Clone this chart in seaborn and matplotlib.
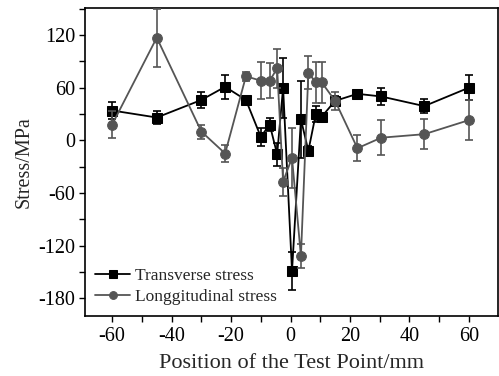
import matplotlib
matplotlib.use("Agg")
import matplotlib.pyplot as plt
import seaborn as sns
import pandas as pd
from matplotlib.ticker import MultipleLocator

# Data
trans_x = [-60, -45, -30, -22, -15, -10, -7, -4.5, -2.5, 0.5, 3.5, 6, 8.5, 10.5, 15, 22.5, 30.5, 45, 60]
trans_y = [34, 26, 46, 61, 46, 4, 18, -16, 60, -149, 24, -12, 30, 27, 45, 53, 50, 39, 60]
trans_err = [10, 7, 9, 14, 3, 10, 7, 13, 34, 22, 44, 6, 9, 3, 5, 4, 10, 8, 14]

long_x = [-60, -45, -30, -22, -15, -10, -7, -4.5, -2.5, 0.5, 3.5, 6, 8.5, 10.5, 15, 22.5, 30.5, 45, 60]
long_y = [18, 117, 10, -15, 73, 68, 68, 82, -47, -20, -132, 77, 66, 66, 45, -9, 3, 7, 23]
long_err = [15, 33, 8, 10, 5, 21, 20, 22, 16, 34, 14, 19, 23, 23, 10, 15, 20, 17, 23]

x_ticks = [-60, -40, -20, 0, 20, 40, 60]
y_ticks = [-180, -120, -60, 0, 60, 120]

sns.set_theme(style="ticks")
plt.rcParams['font.family'] = ['Liberation Serif', 'DejaVu Serif']

fig = plt.figure(figsize=(4.99, 3.76), dpi=100)
ax = fig.add_axes([0.170, 0.160, 0.828, 0.818])

c_t = "#000000"
c_l = "#555555"

df_t = pd.DataFrame({"x": trans_x, "y": trans_y})
df_l = pd.DataFrame({"x": long_x, "y": long_y})

ax.errorbar(trans_x, trans_y, yerr=trans_err, fmt='none', ecolor=c_t,
            elinewidth=1.2, capsize=3, capthick=1.2, zorder=2)
sns.lineplot(data=df_t, x="x", y="y", ax=ax, color=c_t, marker="s",
             markersize=6.5, markeredgecolor=c_t, linewidth=1.3, sort=False,
             label="Transverse stress", zorder=3)
ax.errorbar(long_x, long_y, yerr=long_err, fmt='none', ecolor=c_l,
            elinewidth=1.2, capsize=3, capthick=1.2, zorder=4)
sns.lineplot(data=df_l, x="x", y="y", ax=ax, color=c_l, marker="o",
             markersize=7, markeredgecolor=c_l, linewidth=1.3, sort=False,
             label="Longgitudinal stress", zorder=5)

ax.set_xlim(-69.2, 69.8)
ax.set_ylim(-200, 150.5)
ax.set_xticks(x_ticks)
ax.set_yticks(y_ticks)
ax.set_xticklabels([str(v) for v in x_ticks])
ax.set_yticklabels([str(v) for v in y_ticks])
ax.xaxis.set_minor_locator(MultipleLocator(10))
ax.yaxis.set_minor_locator(MultipleLocator(30))
ax.tick_params(axis='both', which='both', direction='out', length=4, width=1,
               labelsize=14.5, colors='black', top=False, right=False)
ax.tick_params(axis='both', which='minor', length=4)
ax.tick_params(axis='x', pad=4)
ax.tick_params(axis='y', pad=3)
for s in ax.spines.values():
    s.set_visible(True)
    s.set_linewidth(1.2)
    s.set_color('black')

ax.set_xlabel("Position of the Test Point/mm", fontsize=16, labelpad=6)
ax.set_ylabel("Stress/MPa", fontsize=14.5, labelpad=3)

leg = ax.legend(loc="lower left", frameon=False, fontsize=12.5, handlelength=2.0,
                handletextpad=0.3, borderaxespad=0.2, labelspacing=0.3,
                markerscale=0.8, bbox_to_anchor=(0.0, 0.0))

fig.savefig("out.png", dpi=100)
